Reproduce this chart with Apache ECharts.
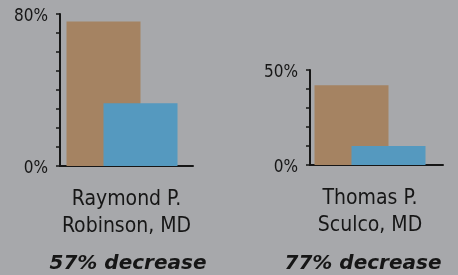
<!DOCTYPE html>
<html>
<head>
<meta charset="utf-8">
<script src="https://cdn.jsdelivr.net/npm/echarts@6/dist/echarts.min.js"></script>
<style>
  html, body { margin: 0; padding: 0; background: #a7a8ab; }
  #chart { width: 458px; height: 275px; }
</style>
</head>
<body>
<div id="chart"></div>
<script>
// surgeons + their before/after rates (%)
const surgeons = ['Raymond P.\nRobinson, MD', 'Thomas P.\nSculco, MD']
const beforeValues = [76, 42]
const afterValues = [33, 10]
const axisMax = [80, 50]
const decreaseLabels = ['57% decrease', '77% decrease']

const NARROW = "'Liberation Sans Narrow', 'DejaVu Sans Condensed', sans-serif"
const INK = '#161616'
const BROWN = '#a58362'
const BLUE = '#5599bf'

const chart = echarts.init(document.getElementById('chart'))

// one grid per surgeon
const grids = [
    { left: 60, right: 265, top: 14, bottom: 109 },
    { left: 310, right: 15, top: 70, bottom: 110 },
]
// bars sit a bit left of the axis centre in the original -> empty spacer column
const spacerWidth = [46, 50]
const labelShift = [0, 13]

const xAxes = surgeons.map((name, i) => ({
    type: 'category',
    gridIndex: i,
    data: [name],
    axisLine: { lineStyle: { color: INK, width: 2 } },
    axisTick: { show: false },
    axisLabel: {
        margin: 20,
        color: INK,
        fontFamily: NARROW,
        fontSize: 21,
        lineHeight: 27,
        padding: [0, labelShift[i], 0, 0],
    },
}))

const yAxes = axisMax.map((max, i) => ({
    type: 'value',
    gridIndex: i,
    min: 0,
    max,
    interval: 10,
    splitLine: { show: false },
    axisLine: { show: true, lineStyle: { color: INK, width: 2 } },
    axisTick: { show: true, length: 4, lineStyle: { color: INK, width: 1.5 } },
    axisLabel: {
        margin: 12,
        color: INK,
        fontFamily: NARROW,
        fontSize: 17,
        // labels sit slightly under their tick in the original
        verticalAlign: 'top',
        lineHeight: 6,
        formatter: v => (v === 0 || v === max) ? `${v}%` : '',
    },
}))

const series = []
surgeons.forEach((_, i) => {
    const common = { type: 'bar', xAxisIndex: i, yAxisIndex: i, barGap: '-50%', silent: true }
    series.push({ ...common, data: [beforeValues[i]], barWidth: 74, itemStyle: { color: BROWN } })
    series.push({ ...common, data: [afterValues[i]], barWidth: 74, itemStyle: { color: BLUE } })
    series.push({ ...common, data: [null], barWidth: spacerWidth[i] })
})

const titleCenters = [123, 358]
const titles = decreaseLabels.map((t, i) => ({
    text: t,
    left: titleCenters[i],
    top: 249,
    textAlign: 'center',
    textStyle: {
        color: INK,
        fontFamily: "'DejaVu Sans', sans-serif",
        fontWeight: 'bold',
        fontStyle: 'italic',
        fontSize: 20,
    },
}))

chart.setOption({
    backgroundColor: '#a7a8ab',
    animation: false,
    title: titles,
    grid: grids,
    xAxis: xAxes,
    yAxis: yAxes,
    series,
})
</script>
</body>
</html>
